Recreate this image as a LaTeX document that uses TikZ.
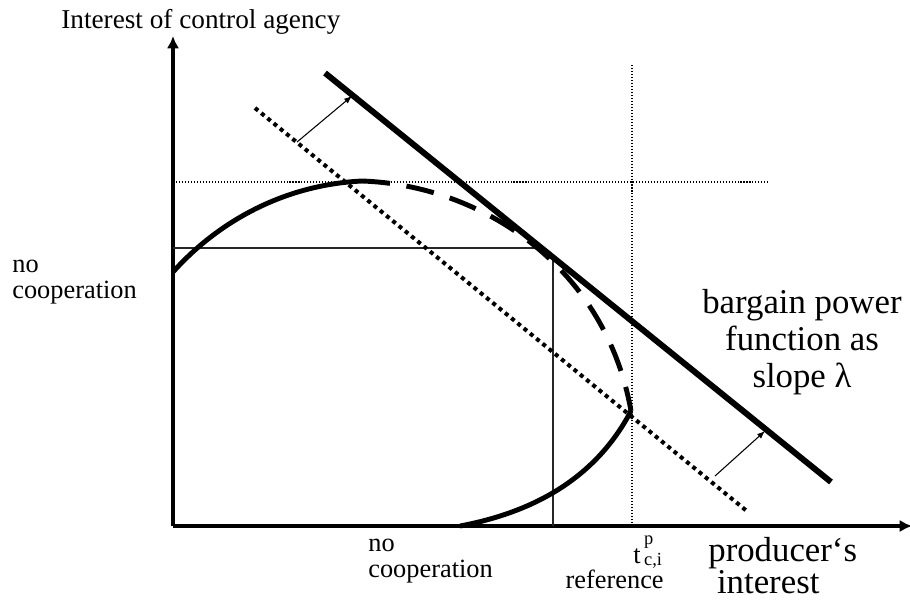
\documentclass[tikz,border=0pt]{standalone}
\usepackage{fontspec}
\setmainfont{Liberation Serif}
\usetikzlibrary{arrows.meta}

\tikzstyle{axis} = [line width=2.2pt, -{Latex[length=7pt,width=7pt]}]
\tikzstyle{budget} = [line width=3.4pt]
\tikzstyle{shifted} = [line width=2.3pt, dash pattern=on 2.3pt off 2.3pt]
\tikzstyle{frontier} = [line width=2.8pt]
\tikzstyle{dashedarc} = [line width=2.8pt, dash pattern=on 16pt off 9.5pt]
\tikzstyle{guide} = [line width=0.6pt, dash pattern=on 0.6pt off 1.1pt]
\tikzstyle{refline} = [line width=0.8pt, black!85]
\tikzstyle{push} = [line width=0.6pt, -{Latex[length=4.5pt,width=3.5pt]}]
\tikzstyle{txt} = [font=\fontsize{15}{14.8}\selectfont, align=left, inner sep=0pt]
\tikzstyle{bigtxt} = [font=\fontsize{19.8}{20.8}\selectfont, align=center, inner sep=0pt]

\newcommand{\idxfont}{\fontsize{10.5}{10.5}\selectfont}

\begin{document}
\begin{tikzpicture}[x=0.02cm, y=-0.02cm]
    \useasboundingbox (0,0) rectangle (910,600);
    % axes
    \coordinate (O) at (173,526);
    \coordinate (ytop) at (173,36);
    \coordinate (xend) at (912,526);
    \draw [axis] (O) -- (ytop);
    \draw [axis] (O) -- (xend);
    % guides
    \coordinate (gy) at (173,182);
    \coordinate (gyend) at (768,182);
    \coordinate (gx) at (632,65);
    \coordinate (gxend) at (632,526);
    \draw [guide] (gy) -- (gyend);
    \draw [guide] (gx) -- (gxend);
    \coordinate (hy) at (173,248);
    \coordinate (hyend) at (542,248);
    \coordinate (vx) at (553,258);
    \coordinate (vxend) at (553,526);
    \draw [refline] (hy) -- (hyend);
    \draw [refline] (vx) -- (vxend);
    % bargain lines
    \coordinate (b1) at (325,73);
    \coordinate (b2) at (831,482);
    \coordinate (s1) at (255,108);
    \coordinate (s2) at (748,512);
    \draw [shifted] (s1) -- (s2);
    \draw [budget] (b1) -- (b2);
    \coordinate (p1) at (297,142);
    \coordinate (q1) at (352,96);
    \coordinate (p2) at (715,476);
    \coordinate (q2) at (765,431);
    \draw [push] (p1) -- (q1);
    \draw [push] (p2) -- (q2);
    % cooperation frontier
    \coordinate (c0) at (173,272);
    \coordinate (c1) at (362,181);
    \coordinate (c2) at (631,411);
    \coordinate (c3) at (460,526);
    \draw [frontier] (c0) .. controls (215,225) and (280,185) .. (c1);
    \draw [dashedarc] (c1) .. controls (480,185) and (605,265) .. (c2);
    \draw [frontier] (c3) .. controls (545,510) and (600,470) .. (c2);
    % labels
    \node (title) [txt, font=\fontsize{15.5}{15}\selectfont, anchor=base west] at (61,28) {Interest of control agency};
    \node (left) [txt, anchor=base west] at (12,298) {no\\cooperation};
    \node (bottom) [txt, anchor=base west] at (368,577) {no\\cooperation};
    \node (tci) [txt, anchor=base west] at (633,563) {t\hspace{2pt}\rlap{\raisebox{10.5pt}{\idxfont p}}\raisebox{-1.5pt}{\idxfont c,i}};
    \node (ref) [txt, anchor=base east] at (664,588) {reference};
    \node (slope) [bigtxt, anchor=base] at (802,387) {bargain power\\function as\\slope λ};
    \node (prod) [bigtxt, font=\fontsize{19.8}{18.2}\selectfont, align=left, anchor=base west] at (708,593) {producer‘s\\\hspace*{0.25em}interest};
\end{tikzpicture}
\end{document}
